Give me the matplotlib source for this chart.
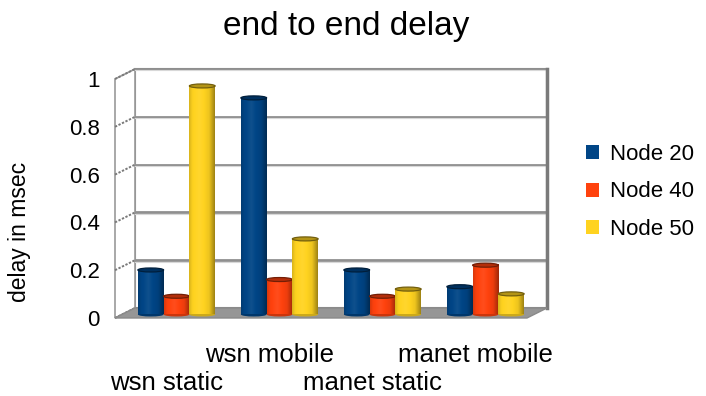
import numpy as np
import matplotlib
matplotlib.use("Agg")
import matplotlib.pyplot as plt
from matplotlib.patches import Polygon, Ellipse, Rectangle
from matplotlib.colors import to_rgb

categories = ["wsn static", "wsn mobile", "manet static", "manet mobile"]
series_names = ["Node 20", "Node 40", "Node 50"]
node20 = [0.18, 0.90, 0.18, 0.11]
node40 = [0.07, 0.14, 0.07, 0.20]
node50 = [0.95, 0.31, 0.10, 0.08]
y_ticks = [0, 0.2, 0.4, 0.6, 0.8, 1]
y_tick_labels = ["0", "0.2", "0.4", "0.6", "0.8", "1"]
colors = ["#004586", "#ff420e", "#ffd320"]

plt.rcParams["font.family"] = ["Liberation Sans", "DejaVu Sans"]

W, H = 706, 396
fig = plt.figure(figsize=(W / 100, H / 100), dpi=100)

# front plane of the plot box (pixels)
x0px, x1px = 115, 527
y0px, y1px = 318, 79
ax = fig.add_axes([x0px / W, 1 - y0px / H, (x1px - x0px) / W, (y0px - y1px) / H])

n_cat = len(categories)
xmin, xmax = -0.5, n_cat - 0.5
dx = 20 / ((x1px - x0px) / n_cat)   # depth offset in category units
dy = 10 / (y0px - y1px)              # depth offset in value units

grid_col = "#8f8f8f"
wall_edge = "#8a8a8a"

# back wall
ax.add_patch(Polygon([(xmin + dx, dy), (xmax + dx, dy), (xmax + dx, 1 + dy), (xmin + dx, 1 + dy)],
                     closed=True, facecolor="white", edgecolor=wall_edge, lw=1.5,
                     clip_on=False, zorder=1))
for v in y_ticks[1:]:
    ax.plot([xmin + dx, xmax + dx], [v + dy, v + dy], color=grid_col, lw=2.0,
            clip_on=False, zorder=2, solid_capstyle="butt")
    ax.plot([xmin + dx, xmax + dx], [v + dy - 0.006, v + dy - 0.006], color="#d8d8d8", lw=0.8,
            clip_on=False, zorder=2)
# right edge of back wall
ax.plot([xmax + dx, xmax + dx], [dy, 1 + dy], color="#7a7a7a", lw=2.5, clip_on=False, zorder=2)

# left wall
ax.add_patch(Polygon([(xmin, 0), (xmin + dx, dy), (xmin + dx, 1 + dy), (xmin, 1)],
                     closed=True, facecolor="white", edgecolor="#9a9a9a", lw=1.2,
                     clip_on=False, zorder=1))
for v in y_ticks:
    ax.plot([xmin, xmin + dx], [v, v + dy], color="#7a7a7a", lw=1.4, ls=(0, (1.2, 0.8)),
            clip_on=False, zorder=2)

# floor
ax.add_patch(Polygon([(xmin, 0), (xmax, 0), (xmax + dx, dy), (xmin + dx, dy)],
                     closed=True, facecolor="#969696", edgecolor="#8a8a8a", lw=1.0,
                     clip_on=False, zorder=2))


def shade(rgb, m):
    rgb = np.asarray(rgb)
    if m < 1:
        return rgb * m
    return rgb + (1 - rgb) * (m - 1)


# rounded columns
bar_w = 0.25
cap_h = 4 / (y0px - y1px)
t = np.linspace(0, 1, 64)
profile = np.interp(t, [0, 0.12, 0.4, 0.78, 1], [0.85, 0.98, 1.06, 0.93, 0.62])
series = [node20, node40, node50]
z = 5
for i in range(n_cat):
    for j, vals in enumerate(series):
        base = to_rgb(colors[j])
        xc = i + (j - 1) * bar_w + dx / 2
        yb = dy * 0.35
        top = vals[i] + dy / 2
        grad = np.array([[shade(base, m) for m in profile]])
        ax.add_patch(Ellipse((xc, yb), bar_w, cap_h, facecolor=shade(base, 0.8),
                             edgecolor="none", clip_on=False, zorder=z))
        ax.imshow(grad, extent=[xc - bar_w / 2, xc + bar_w / 2, yb, top],
                  aspect="auto", interpolation="bilinear", clip_on=False, zorder=z + 0.1)
        ax.add_patch(Ellipse((xc, top), bar_w, cap_h, facecolor=shade(base, 0.7),
                             edgecolor=shade(base, 0.45), lw=0.9, clip_on=False, zorder=z + 0.2))
        z += 1

ax.set_xlim(xmin, xmax)
ax.set_ylim(0, 1)
ax.set_aspect("auto")
for s in ax.spines.values():
    s.set_visible(False)
ax.set_xticks([])
ax.set_yticks(y_ticks, y_tick_labels)
ax.tick_params(axis="y", length=0, pad=11, labelsize=16)
ax.patch.set_visible(False)

# staggered category labels
xt = ax.get_xaxis_transform()
for i, name in enumerate(categories):
    ypos = -0.155 if i % 2 == 1 else -0.272
    ax.text(i, ypos, name, transform=xt, ha="center", va="center", fontsize=18.5, clip_on=False)

fig.text(346 / W, 1 - 27 / H, "end to end delay", ha="center", va="center", fontsize=24)
fig.text(20 / W, 1 - 232 / H, "delay in msec", ha="center", va="center", rotation=90, fontsize=16.5)

handles = [Rectangle((0, 0), 1, 1, facecolor=c, edgecolor="none") for c in colors]
fig.legend(handles, series_names, loc="center left", bbox_to_anchor=(577 / W, 1 - 192 / H),
           frameon=False, fontsize=16, handlelength=0.6, handleheight=0.6,
           handletextpad=0.5, labelspacing=0.75, borderaxespad=0)

fig.savefig("out.png", dpi=100)
